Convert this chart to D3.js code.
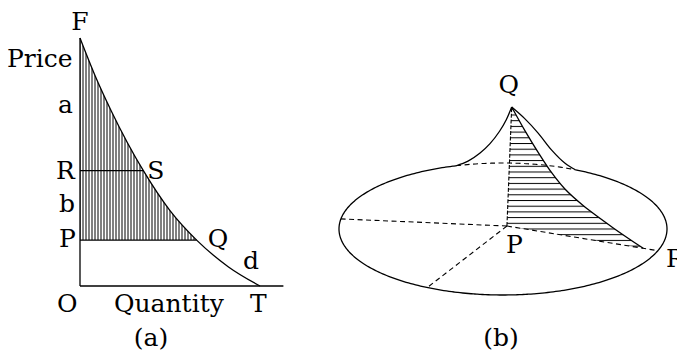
<!DOCTYPE html>
<html>
<head>
<meta charset="utf-8">
<script src="https://cdn.jsdelivr.net/npm/d3@7"></script>
<style>
  html, body { margin: 0; padding: 0; background: #fff; }
  svg { display: block; }
  text { font-family: "DejaVu Serif", serif; font-size: 25px; fill: #000; }
</style>
</head>
<body>
<div id="chart"></div>
<script>
// ---- panel (a): demand curve ----
const quantity = [0, 0.833, 1.75, 3.52, 5.0, 6.48, 8.25, 10];
const price    = [10, 8.49, 7.04, 4.65, 3.04, 1.85, 0.77, 0];
const priceR = 4.65, quantityS = 3.52;   // R -- S
const priceP = 1.85, quantityQ = 6.48;   // P -- Q
const quantityAxisMax = 11.3;

// ---- panel (b): the demand surface, radius share s and height h ----
const demandS = [0, 0.092, 0.186, 0.279, 0.372, 0.494, 0.698, 0.903];
const demandH = [1, 0.823, 0.658, 0.508, 0.388, 0.277, 0.131, 0];
const leftSilS = [0, 0.09, 0.21, 0.38, 0.56, 0.78, 1];
const leftSilH = [1, 0.85, 0.69, 0.5, 0.33, 0.15, 0];
const rightSilS = [0, 0.2, 0.415, 0.63, 0.84, 1];
const rightSilH = [1, 0.81, 0.585, 0.34, 0.13, 0];
const angleDemand = 19.2, angleLeft = 188.8, angleFront = 117.5; // degrees on the rim
const silhouetteAngles = [-106.6, -63.8];
const axisFoot = [0.024, -0.045], apexU = 0.053;

const width = 677, height = 362;
const svg = d3.select('#chart').append('svg')
  .attr('width', width)
  .attr('height', height);

const defs = svg.append('defs');

// vertical hatching for (a)
defs.append('pattern')
  .attr('id', 'vhatch')
  .attr('patternUnits', 'userSpaceOnUse')
  .attr('x', 79.5).attr('y', 0)
  .attr('width', 3).attr('height', 10)
  .append('rect')
  .attr('width', 1).attr('height', 10)
  .attr('fill', '#000');

// horizontal hatching for (b)
defs.append('pattern')
  .attr('id', 'hhatch')
  .attr('patternUnits', 'userSpaceOnUse')
  .attr('x', 0).attr('y', 0.5)
  .attr('width', 10).attr('height', 5.7)
  .append('rect')
  .attr('width', 10).attr('height', 1)
  .attr('fill', '#000');

// ================= panel (a) =================
const xA = d3.scaleLinear().domain([0, 10]).range([80, 260]);
const yA = d3.scaleLinear().domain([0, 10]).range([286, 38]);

const demand = quantity.map((q, i) => ({ q, p: price[i] }));

const gA = svg.append('g');

defs.append('clipPath').attr('id', 'aboveP')
  .append('rect')
  .attr('x', xA(0)).attr('y', 0)
  .attr('width', xA(quantityAxisMax) - xA(0))
  .attr('height', yA(priceP));

const areaA = d3.area()
  .x(d => xA(d.q))
  .y0(yA(0))
  .y1(d => yA(d.p))
  .curve(d3.curveMonotoneX);

gA.append('path')
  .attr('d', areaA(demand))
  .attr('fill', 'url(#vhatch)')
  .attr('clip-path', 'url(#aboveP)');

const lineA = d3.line()
  .x(d => xA(d.q))
  .y(d => yA(d.p))
  .curve(d3.curveMonotoneX);

gA.append('path')
  .attr('d', lineA(demand))
  .attr('fill', 'none')
  .attr('stroke', '#000')
  .attr('stroke-width', 1.3);

// axes
gA.append('line')
  .attr('x1', xA(0)).attr('y1', yA(10))
  .attr('x2', xA(0)).attr('y2', yA(0))
  .attr('stroke', '#000').attr('stroke-width', 1.3);
gA.append('line')
  .attr('x1', xA(0)).attr('y1', yA(0))
  .attr('x2', xA(quantityAxisMax)).attr('y2', yA(0))
  .attr('stroke', '#000').attr('stroke-width', 1.3);

// R-S and P-Q
[[priceR, quantityS], [priceP, quantityQ]].forEach(([p, q]) => {
  gA.append('line')
    .attr('x1', xA(0)).attr('y1', yA(p))
    .attr('x2', xA(q)).attr('y2', yA(p))
    .attr('stroke', '#000').attr('stroke-width', 1.3);
});

const labelsA = [
  { t: 'F', x: 80, y: 30, a: 'middle' },
  { t: 'Price', x: 7, y: 67 },
  { t: 'a', x: 58, y: 113 },
  { t: 'R', x: 56, y: 179 },
  { t: 'S', x: xA(quantityS) + 4, y: 179 },
  { t: 'b', x: 59, y: 212 },
  { t: 'P', x: 59, y: 247 },
  { t: 'Q', x: xA(quantityQ) + 11, y: 247 },
  { t: 'd', x: 243, y: 269 },
  { t: 'O', x: 57, y: 312 },
  { t: 'Quantity', x: 114, y: 312 },
  { t: 'T', x: 250, y: 312 },
  { t: '(a)', x: 151, y: 346, a: 'middle' }
];

// ================= panel (b) =================
const xB = d3.scaleLinear().domain([-1, 1]).range([339, 667]);
const yB = d3.scaleLinear().domain([-1, 1]).range([163, 295]);
const hB = d3.scaleLinear().domain([0, 1]).range([0, 119]);

const rad = a => a * Math.PI / 180;
const rim = a => [Math.cos(rad(a)), Math.sin(rad(a))];

// point on the vertical plane through the axis at rim angle a
function project(a, s, h) {
  const r = rim(a);
  const u = axisFoot[0] + s * (r[0] - axisFoot[0]) + h * (apexU - axisFoot[0]);
  const v = axisFoot[1] + s * (r[1] - axisFoot[1]);
  return [xB(u), yB(v) - hB(h)];
}

const gB = svg.append('g');
const smooth = d3.line().curve(d3.curveCatmullRom.alpha(0.5));
const straight = d3.line();

const demandPts = demandS.map((s, i) => project(angleDemand, s, demandH[i]));
const footPt = project(angleDemand, 0, 0);
const apexPt = project(angleDemand, 0, 1);

// hatched wedge
gB.append('path')
  .attr('d', smooth(demandPts) + 'L' + footPt.join(',') + 'Z')
  .attr('fill', 'url(#hhatch)');

// rim of the base
const rimPts = (a0, a1) => d3.range(a0, a1, 1).concat([a1])
  .map(a => [xB(rim(a)[0]), yB(rim(a)[1])]);

gB.append('path')
  .attr('d', smooth(rimPts(silhouetteAngles[1], silhouetteAngles[0] + 360)))
  .attr('fill', 'none').attr('stroke', '#000').attr('stroke-width', 1.3);

const dashed = sel => sel.attr('fill', 'none').attr('stroke', '#000')
  .attr('stroke-width', 1.1).attr('stroke-dasharray', '5,3.5');

gB.append('path')
  .attr('d', smooth(rimPts(silhouetteAngles[0], silhouetteAngles[1])))
  .call(dashed);

// dashed radii from P
[angleLeft, angleFront, angleDemand].forEach(a => {
  gB.append('path')
    .attr('d', straight([footPt, project(a, 1, 0)]))
    .call(dashed);
});

// dashed axis P-Q
gB.append('path')
  .attr('d', straight([footPt, apexPt]))
  .call(dashed)
  .attr('stroke-dasharray', '4,1.7');

// silhouettes
[[silhouetteAngles[0], leftSilS, leftSilH], [silhouetteAngles[1], rightSilS, rightSilH]]
  .forEach(([a, ss, hh]) => {
    gB.append('path')
      .attr('d', smooth(ss.map((s, i) => project(a, s, hh[i]))))
      .attr('fill', 'none').attr('stroke', '#000').attr('stroke-width', 1.3);
  });

// demand curve on the surface
gB.append('path')
  .attr('d', smooth(demandPts))
  .attr('fill', 'none').attr('stroke', '#000').attr('stroke-width', 1.3);

const labelsB = [
  { t: 'Q', x: apexPt[0] - 3, y: 93, a: 'middle' },
  { t: 'P', x: footPt[0] - 1, y: 253 },
  { t: 'R', x: 666, y: 267 },
  { t: '(b)', x: 501, y: 346, a: 'middle' }
];

svg.append('g').selectAll('text')
  .data(labelsA.concat(labelsB))
  .join('text')
  .attr('x', d => d.x)
  .attr('y', d => d.y)
  .attr('text-anchor', d => d.a || 'start')
  .text(d => d.t);
</script>
</body>
</html>
